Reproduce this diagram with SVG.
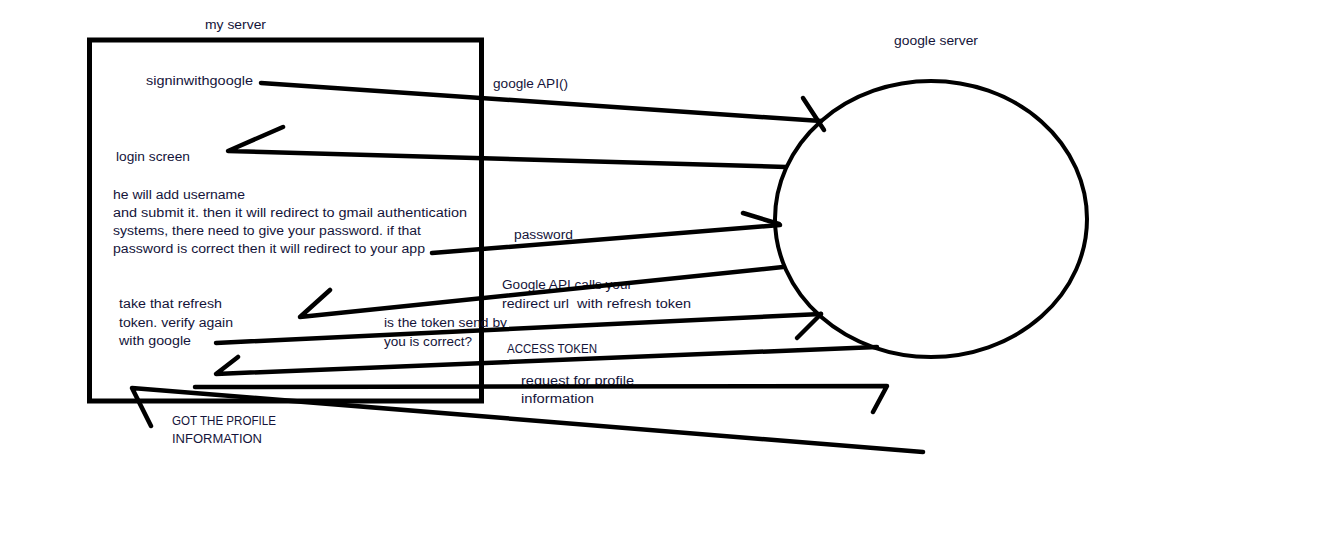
<svg xmlns="http://www.w3.org/2000/svg" width="1341" height="555" viewBox="0 0 1341 555">
<style>
text{font-family:"Liberation Sans",Arial,sans-serif;font-size:12.5px;fill:#14143a}
.shape{fill:none;stroke:#000}
.c{fill:none;stroke:#000;stroke-width:4.5;stroke-linecap:round;stroke-linejoin:round}
</style>
<rect width="1341" height="555" fill="#fff"/>
<g id="my-server">
<text x="205" y="29" textLength="61" lengthAdjust="spacingAndGlyphs">my server</text>
<rect class="shape" x="89.5" y="40" width="392" height="361" stroke-width="5"/>
</g>
<g id="google-server">
<text x="894" y="45" textLength="84" lengthAdjust="spacingAndGlyphs">google server</text>
<ellipse class="shape" cx="931" cy="219" rx="156" ry="138" stroke-width="4"/>
</g>
<g id="signin">
<text x="146" y="85" textLength="107" lengthAdjust="spacingAndGlyphs">signinwithgoogle</text>
</g>
<g id="login-screen">
<text x="116" y="160.5" textLength="74" lengthAdjust="spacingAndGlyphs">login screen</text>
</g>
<g id="username-note">
<text x="113" y="198.5" textLength="132" lengthAdjust="spacingAndGlyphs">he will add username</text>
<text x="113" y="216.5" textLength="354" lengthAdjust="spacingAndGlyphs">and submit it. then it will redirect to gmail authentication</text>
<text x="113" y="234.5" textLength="308" lengthAdjust="spacingAndGlyphs">systems, there need to give your password. if that</text>
<text x="113" y="252.5" textLength="312" lengthAdjust="spacingAndGlyphs">password is correct then it will redirect to your app</text>
</g>
<g id="refresh-note">
<text x="119" y="308" textLength="103" lengthAdjust="spacingAndGlyphs">take that refresh</text>
<text x="119" y="326.5" textLength="114" lengthAdjust="spacingAndGlyphs">token. verify again</text>
<text x="119" y="345" textLength="72" lengthAdjust="spacingAndGlyphs">with google</text>
</g>
<g id="profile-note">
<text x="172" y="425" textLength="104" lengthAdjust="spacingAndGlyphs">GOT THE PROFILE</text>
<text x="172" y="442.5" textLength="90" lengthAdjust="spacingAndGlyphs">INFORMATION</text>
</g>
<g id="connector-labels">
<text x="493" y="87.5" textLength="75" lengthAdjust="spacingAndGlyphs">google API()</text>
<text x="514" y="239" textLength="59" lengthAdjust="spacingAndGlyphs">password</text>
<text x="502" y="289" textLength="130" lengthAdjust="spacingAndGlyphs">Google API calls your</text>
<text x="502" y="307.5" textLength="67" lengthAdjust="spacingAndGlyphs">redirect url</text>
<text x="577" y="308" textLength="114" lengthAdjust="spacingAndGlyphs">with refresh token</text>
<text x="384" y="327" textLength="123" lengthAdjust="spacingAndGlyphs">is the token send by</text>
<text x="384" y="345.5" textLength="88" lengthAdjust="spacingAndGlyphs">you is correct?</text>
<text x="507" y="353" textLength="90" lengthAdjust="spacingAndGlyphs">ACCESS TOKEN</text>
<text x="521" y="384.5" textLength="113" lengthAdjust="spacingAndGlyphs">request for profile</text>
<text x="521" y="402.5" textLength="73" lengthAdjust="spacingAndGlyphs">information</text>
</g>
<g id="connectors">
<polyline class="c" points="261,83 821,121"/>
<polyline class="c" points="803,98 824,130"/>
<polyline class="c" points="786,167 228,151 283,127"/>
<polyline class="c" points="432,253 780,225"/>
<polyline class="c" points="743,213 779,224"/>
<polyline class="c" points="783,267 300,317 330,290"/>
<polyline class="c" points="216,343 821,314"/>
<polyline class="c" points="797,338 821,314"/>
<polyline class="c" points="877,347 216,374 238,357"/>
<polyline class="c" points="195,387 887,386 873,412"/>
<polyline class="c" points="923,452 132,388 151,426"/>
</g>
</svg>
